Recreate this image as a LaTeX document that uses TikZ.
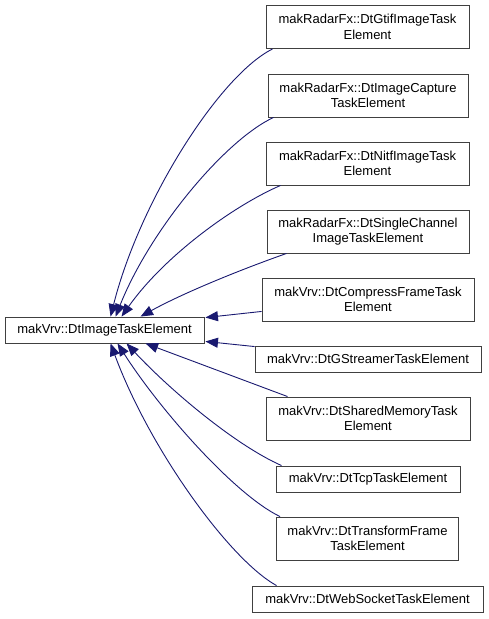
\documentclass[tikz,border=0pt]{standalone}
\usepackage{fontspec}
\setmainfont{Liberation Sans}
\usetikzlibrary{arrows.meta,calc}
\definecolor{edgeblue}{HTML}{191970}
\definecolor{boxline}{HTML}{404040}
\tikzset{
  cls/.style={draw=boxline, line width=0.9pt, fill=white, inner sep=0pt, align=center,
    font=\fontsize{13}{15.5}\selectfont, text=black},
  two/.style={cls, minimum height=43pt},
  one/.style={cls, minimum height=26pt},
  inh/.style={draw=edgeblue, line width=0.9pt, -{Triangle[length=12.5pt,width=10pt]}, edgeblue},
}
\begin{document}
\begin{tikzpicture}[x=1pt,y=-1pt]
\useasboundingbox (0,0) rectangle (488,619);
\node[one, minimum width=199pt] (b) at (104.5,330) {makVrv::DtImageTaskElement};
\node[two, minimum width=203pt] (c1) at (367.5,27) {makRadarFx::DtGtifImageTask\\Element};
\node[two, minimum width=200pt] (c2) at (368,95.5) {makRadarFx::DtImageCapture\\TaskElement};
\node[two, minimum width=203pt] (c3) at (367.5,163.5) {makRadarFx::DtNitfImageTask\\Element};
\node[two, minimum width=202pt] (c4) at (368,231.5) {makRadarFx::DtSingleChannel\\ImageTaskElement};
\node[two, minimum width=212pt] (c5) at (368,299.5) {makVrv::DtCompressFrameTask\\Element};
\node[one, minimum width=226pt] (c6) at (368,359) {makVrv::DtGStreamerTaskElement};
\node[two, minimum width=204pt] (c7) at (368,418.5) {makVrv::DtSharedMemoryTask\\Element};
\node[one, minimum width=184pt] (c8) at (368,479) {makVrv::DtTcpTaskElement};
\node[two, minimum width=182pt] (c9) at (367.5,538.5) {makVrv::DtTransformFrame\\TaskElement};
\node[one, minimum width=231pt] (c10) at (367.5,599) {makVrv::DtWebSocketTaskElement};

\draw[inh] ($(c1.south west)+(7,0)$) .. controls (220,75) and (140,200) .. ($(b.north west)+(106,0)$);
\draw[inh] ($(c2.south west)+(6,0)$) .. controls (225,140) and (150,230) .. ($(b.north west)+(111,0)$);
\draw[inh] ($(c3.south west)+(15,0)$) .. controls (235,205) and (165,255) .. ($(b.north west)+(117,0)$);
\draw[inh] ($(c4.south west)+(20,0)$) .. controls (245,268) and (185,292) .. ($(b.north west)+(136,0)$);
\draw[inh] ($(c5.south west)+(0,-10)$) -- ($(b.north east)+(1,1)$);
\draw[inh] ($(c6.north west)+(0,1)$) -- ($(b.south east)+(1,-2)$);
\draw[inh] ($(c7.north west)+(22,0)$) -- ($(b.south west)+(141,0)$);
\draw[inh] ($(c8.north west)+(6,0)$) .. controls (235,445) and (170,390) .. ($(b.south west)+(122,0)$);
\draw[inh] ($(c9.north west)+(4,0)$) .. controls (235,495) and (160,410) .. ($(b.south west)+(113,0)$);
\draw[inh] ($(c10.north west)+(25,0)$) .. controls (230,560) and (150,450) .. ($(b.south west)+(106,0)$);
\end{tikzpicture}
\end{document}
